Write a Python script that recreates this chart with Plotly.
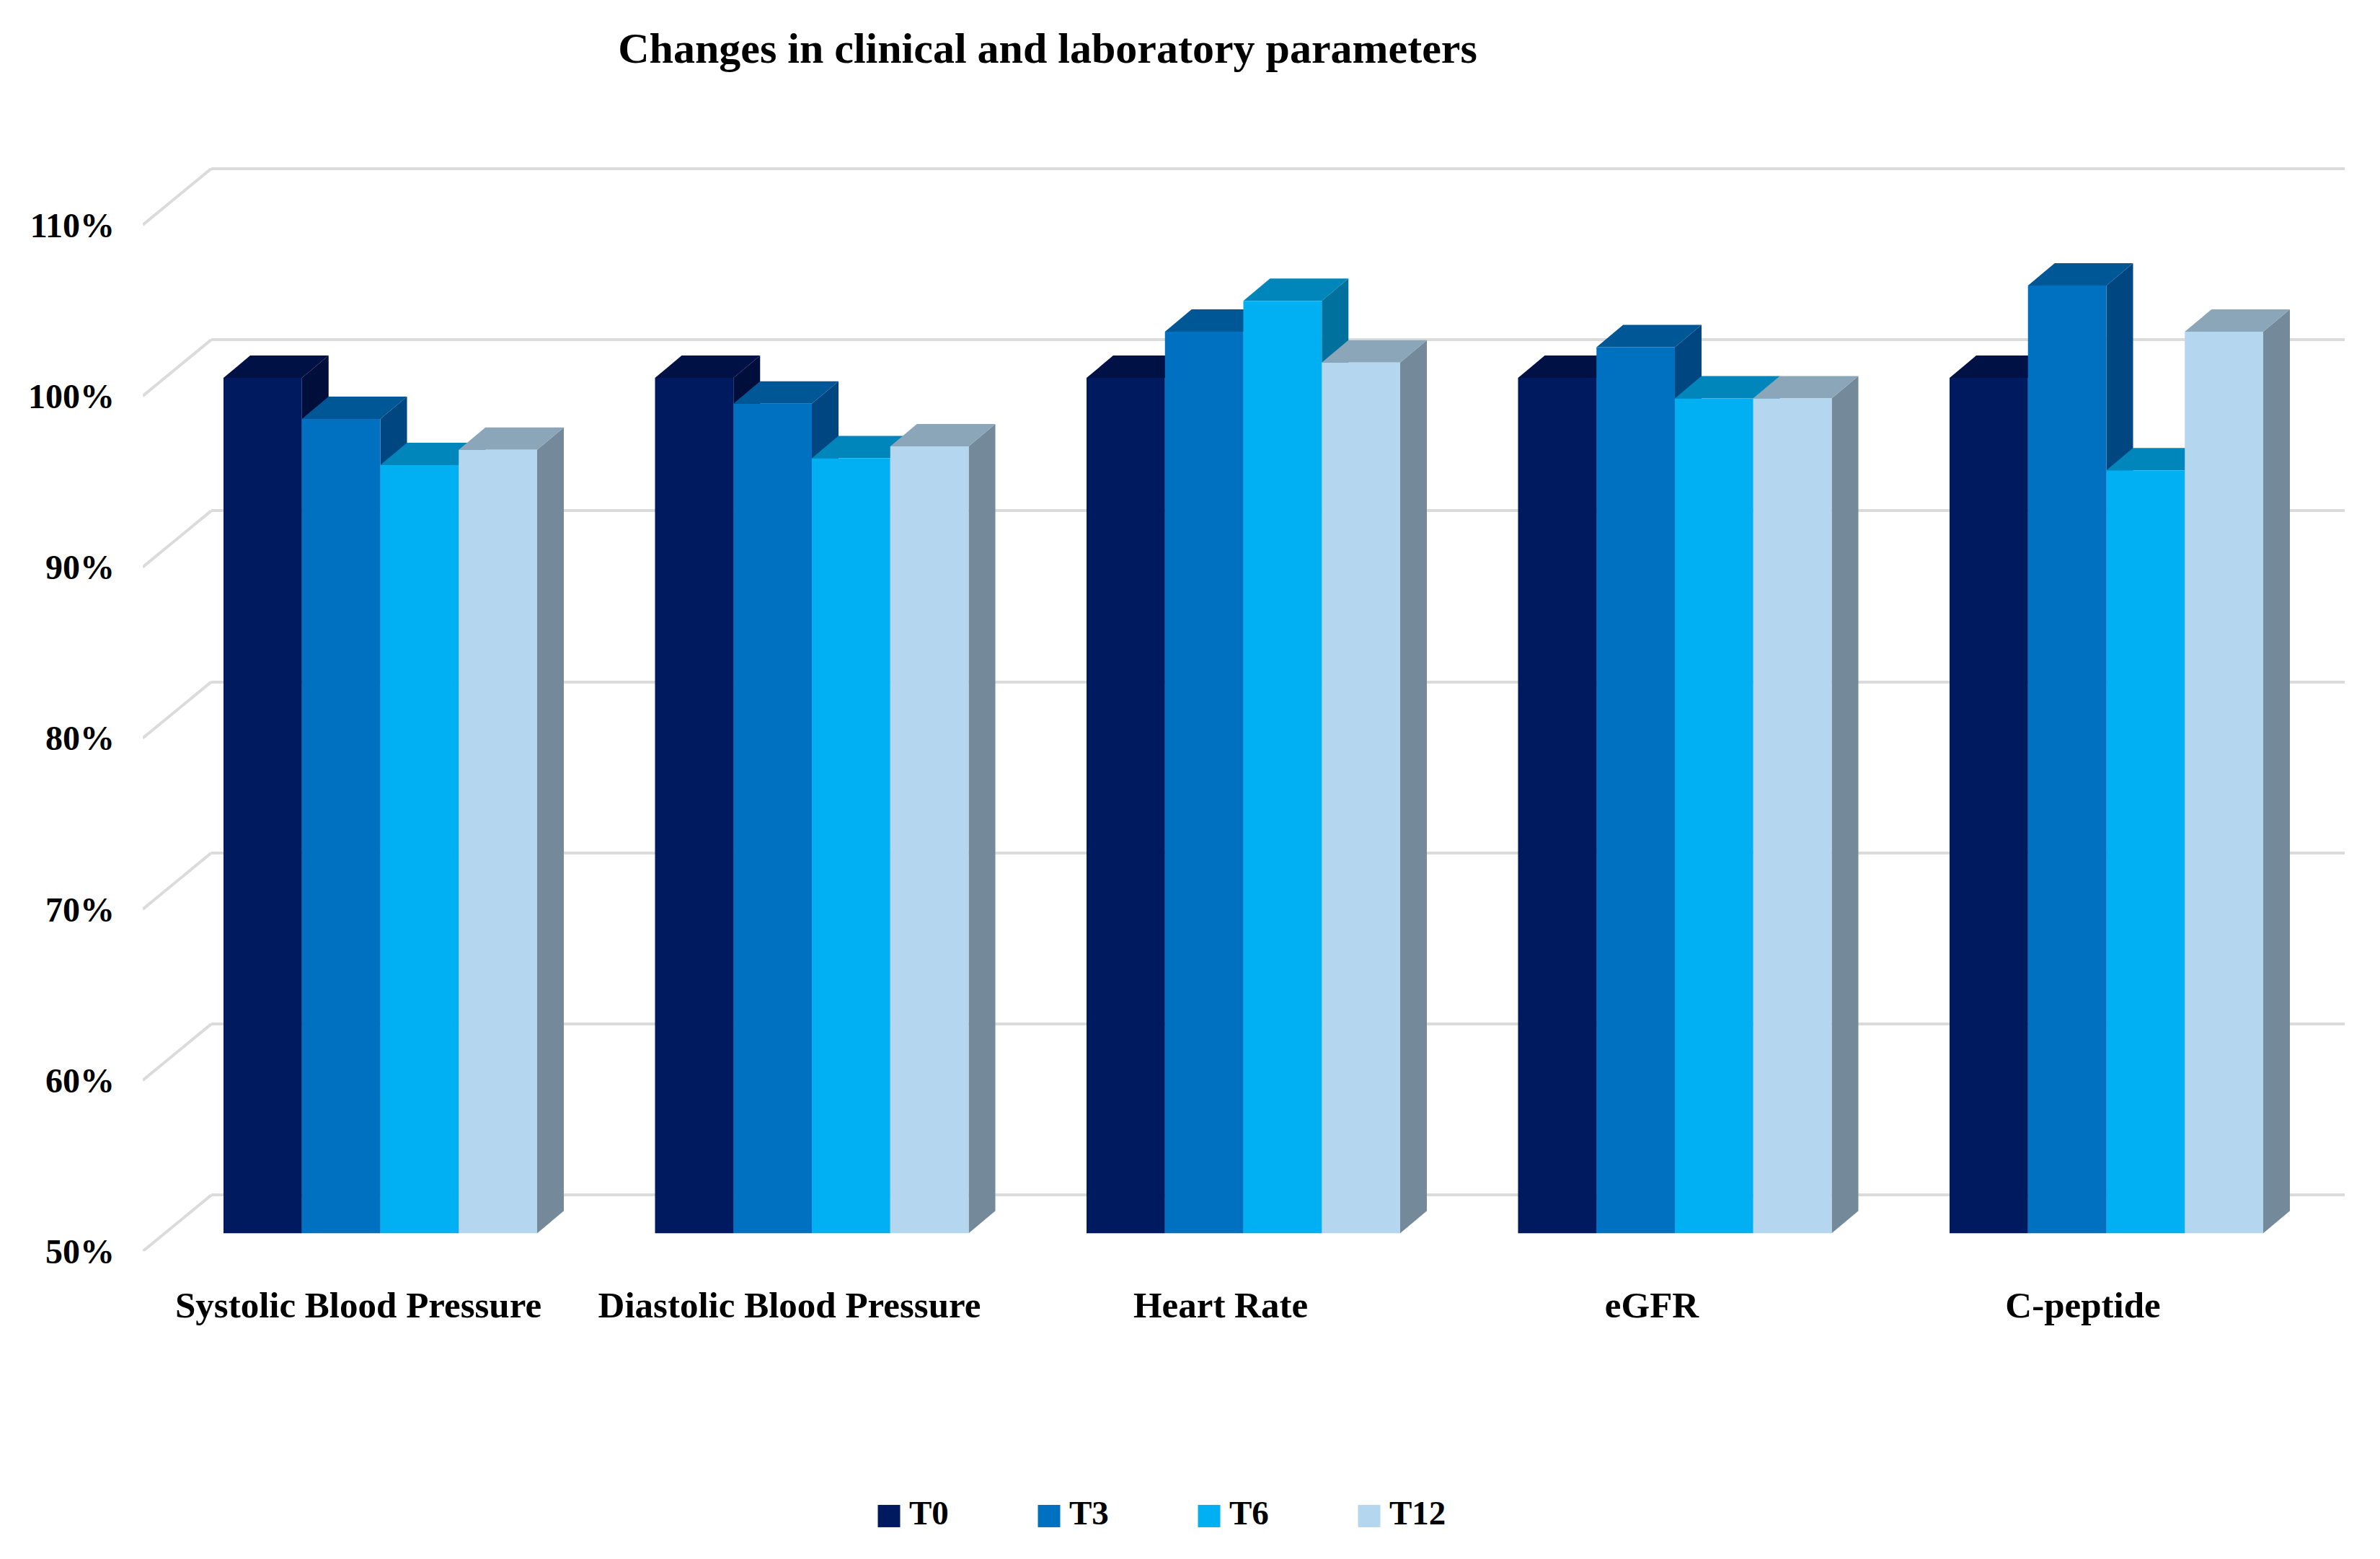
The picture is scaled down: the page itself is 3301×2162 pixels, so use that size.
import plotly.graph_objects as go

categories = ["Systolic Blood Pressure", "Diastolic Blood Pressure", "Heart Rate", "eGFR", "C-peptide"]
series_names = ["T0", "T3", "T6", "T12"]
t0 = [100, 100, 100, 100, 100]
t3 = [97.6, 98.5, 102.7, 101.8, 105.4]
t6 = [94.9, 95.3, 104.5, 98.8, 94.6]
t12 = [95.8, 96.0, 100.9, 98.8, 102.7]
series_values = [t0, t3, t6, t12]
y_ticks = [50, 60, 70, 80, 90, 100, 110]
y_labels = ["50%", "60%", "70%", "80%", "90%", "100%", "110%"]

front_colors = ["#001A5F", "#0071C1", "#00B0F2", "#B4D7EF"]
top_colors = ["#001146", "#005796", "#0086BA", "#8CA6B9"]
side_colors = ["#000E3C", "#004681", "#00719D", "#748A9A"]
FONT = "Liberation Serif"
W, H = 3301, 2162
K = 1 / 0.9873   # vertical correction measured against the returned picture
PPU = 23.72      # pixels per percent
GROUP = 598.5    # pixels per category
LABEL_STEP = 598
DX, DY = 37 / GROUP, 31 / PPU
BAR = 108.75 / GROUP


def xdom(a, b):
    return [a / W, b / W]


def ydom(top, bottom):
    return [1 - bottom * K / H, 1 - top * K / H]


fig = go.Figure()
hidden = dict(visible=False, fixedrange=True)

# back wall gridlines
fig.update_layout(
    xaxis=dict(domain=xdom(293, 3252), range=[0, 1], **hidden),
    yaxis=dict(domain=ydom(1657 - 61 * PPU, 1657 + PPU), range=[49, 111], showgrid=True,
               gridcolor="#DBDBDB", gridwidth=4, tickvals=y_ticks, showticklabels=False,
               zeroline=False, showline=False, ticks="", fixedrange=True),
)
fig.add_trace(go.Scatter(x=[0, 1], y=[50, 50], mode="lines", line=dict(width=0),
                         xaxis="x", yaxis="y", hoverinfo="skip", showlegend=False))

# label plane with the diagonal wall lines
x4_left = (198 - 497) / LABEL_STEP
x4_right = (3252 - 497) / LABEL_STEP
depth_left = 95 / LABEL_STEP
diag_dy = 78 / PPU
dx_line, dy_line = [], []
for v in y_ticks:
    dx_line += [x4_left, x4_left + depth_left, None]
    dy_line += [v, v + diag_dy, None]
fig.add_trace(go.Scatter(x=dx_line, y=dy_line, mode="lines", line=dict(color="#DBDBDB", width=4),
                         xaxis="x2", yaxis="y2", hoverinfo="skip", showlegend=False))
fig.update_layout(
    xaxis2=dict(domain=xdom(198, 3252), range=[x4_left, x4_right], tickvals=list(range(5)),
                ticktext=categories, showgrid=False, zeroline=False, showline=False,
                ticks="", ticklabelstandoff=40, anchor="y2", fixedrange=True,
                tickfont=dict(family=FONT, size=51, color="#000000", weight="bold")),
    yaxis2=dict(domain=ydom(233, 1735), range=[50, 50 + 1502 / PPU], tickvals=y_ticks,
                ticktext=y_labels, showgrid=False, zeroline=False, showline=False, ticks="",
                ticklabelstandoff=38, anchor="x2", fixedrange=True,
                tickfont=dict(family=FONT, size=48, color="#000000", weight="bold")),
)

# bar plane: ranges shared by the depth faces and the fronts
x_rng = [(250 - 527.5) / GROUP, (3252 - 527.5) / GROUP]
y_rng = [50, 115]
bar_dom_y = ydom(1710 - 65 * PPU, 1710)
bar_dom_x = xdom(250, 3252)

for s, vals in enumerate(series_values):
    sx, sy, tx, ty = [], [], [], []
    for i, v in enumerate(vals):
        xl = i - 2 * BAR + s * BAR
        xr = xl + BAR
        sx += [xr, xr + DX, xr + DX, xr, xr, None]
        sy += [50, 50 + DY, v + DY, v, 50, None]
        tx += [xl, xl + DX, xr + DX, xr, xl, None]
        ty += [v, v + DY, v + DY, v, v, None]
    fig.add_trace(go.Scatter(x=sx, y=sy, mode="lines", fill="toself", fillcolor=side_colors[s],
                             line=dict(width=0), xaxis="x3", yaxis="y3",
                             hoverinfo="skip", showlegend=False))
    fig.add_trace(go.Scatter(x=tx, y=ty, mode="lines", fill="toself", fillcolor=top_colors[s],
                             line=dict(width=0), xaxis="x3", yaxis="y3",
                             hoverinfo="skip", showlegend=False))
    fig.add_trace(go.Bar(x=list(range(5)), y=vals, name=series_names[s], xaxis="x4", yaxis="y4",
                         marker=dict(color=front_colors[s], line=dict(width=0)), showlegend=False))

fig.update_layout(
    xaxis3=dict(domain=bar_dom_x, range=x_rng, anchor="y3", **hidden),
    yaxis3=dict(domain=bar_dom_y, range=y_rng, anchor="x3", **hidden),
    xaxis4=dict(domain=bar_dom_x, range=x_rng, anchor="y4", **hidden),
    yaxis4=dict(domain=bar_dom_y, range=y_rng, anchor="x4", **hidden),
    barmode="group", bargap=1 - 4 * BAR, bargroupgap=0,
)

# legend row
for s, name in enumerate(series_names):
    fig.add_trace(go.Scatter(x=[s], y=[0], mode="markers",
                             marker=dict(symbol="square", size=31, color=front_colors[s], line=dict(width=0)),
                             xaxis="x5", yaxis="y5", hoverinfo="skip", showlegend=False, cliponaxis=False))
    fig.add_trace(go.Scatter(x=[s + 28 / 222], y=[0], mode="text", text=[name], textposition="middle right",
                             textfont=dict(family=FONT, size=47, color="#000000", weight="bold"),
                             xaxis="x5", yaxis="y5", hoverinfo="skip", showlegend=False, cliponaxis=False))
fig.update_layout(
    xaxis5=dict(domain=xdom(1233 - 222 * 0.2, 1233 + 222 * 3.8), range=[-0.2, 3.8], anchor="y5", **hidden),
    yaxis5=dict(domain=ydom(2077, 2127), range=[-1, 1], anchor="x5", **hidden),
)

fig.update_layout(
    width=W, height=H, margin=dict(l=0, r=0, t=0, b=0), autosize=False,
    paper_bgcolor="#FFFFFF", plot_bgcolor="rgba(0,0,0,0)",
    showlegend=False,
    title=dict(text="Changes in clinical and laboratory parameters", x=1453 / W, xanchor="center",
               xref="container", y=1 - 66 / H, yanchor="middle",
               font=dict(family=FONT, size=60, color="#000000", weight="bold")),
)

fig.write_html("out.html", config={"displayModeBar": False}, post_script=(
    "document.documentElement.style.margin='0';document.body.style.margin='0';"
    "document.documentElement.style.overflow='hidden';"
    "document.body.style.overflow='hidden';"
))
